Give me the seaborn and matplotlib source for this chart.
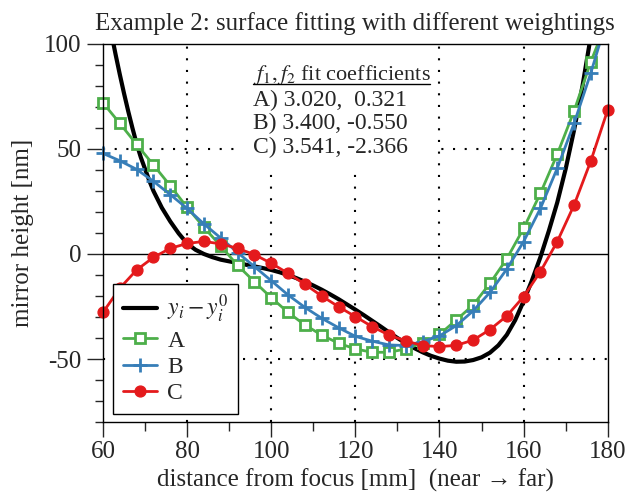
#Example 2: surface fitting with different weightings
import numpy as np
import matplotlib
matplotlib.use("Agg")
import matplotlib.pyplot as plt
from matplotlib.patches import Rectangle
from matplotlib.lines import Line2D
import seaborn as sns

# data
x_fit = [60, 64, 68, 72, 76, 80, 84, 88, 92, 96, 100, 104, 108, 112, 116, 120,
         124, 128, 132, 136, 140, 144, 148, 152, 156, 160, 164, 168, 172, 176, 180]
y_a = [72.0, 62.2, 52.2, 42.4, 32.5, 22.2, 12.7, 3.8, -5.4, -13.2, -20.8, -27.8,
       -33.8, -38.6, -42.5, -45.2, -46.8, -46.8, -45.2, -42.3, -38.3, -31.4, -24.3,
       -14.0, -2.3, 12.2, 28.9, 47.5, 68.1, 91.6, 112.0]
y_b = [47.9, 44.4, 40.3, 34.6, 28.3, 21.7, 14.3, 7.6, 0.7, -6.0, -12.7, -19.5,
       -25.4, -30.6, -35.1, -39.2, -41.5, -43.3, -43.6, -41.7, -39.0, -34.1, -27.1,
       -18.3, -7.2, 5.9, 21.7, 40.8, 62.2, 86.3, 113.0]
y_c = [-27.8, -16.3, -7.6, -1.6, 2.7, 5.0, 6.0, 4.8, 2.7, -0.3, -4.4, -9.2,
       -14.4, -20.0, -25.1, -29.8, -34.6, -38.6, -41.4, -43.6, -44.1, -43.5, -41.0,
       -36.0, -29.5, -20.3, -8.4, 5.9, 23.3, 44.4, 68.6]

x_true = [62, 63, 64, 65, 66, 67, 68, 69, 70, 71, 72, 74, 76, 78, 80, 82, 84, 86,
          88, 90, 92, 94, 96, 98, 100, 102, 104, 106, 108, 110, 112, 114, 116, 118,
          120, 122, 124, 126, 128, 130, 132, 134, 136, 138, 140, 142, 144, 146, 148,
          150, 152, 154, 156, 158, 160, 162, 164, 166, 168, 170, 172, 174, 176]
y_true = [105, 95, 85.5, 76.5, 68, 60, 52.5, 46, 40.5, 35, 30, 22, 15.5, 9.8, 5,
          2, 0, -1.5, -2.7, -3.5, -4.3, -5.1, -5.9, -6.7, -7.6, -8.7, -10, -11.5,
          -13.2, -15, -17, -19.2, -21.5, -24, -26.5, -29.1, -31.8, -34.5, -37.3,
          -40, -42.5, -44.8, -46.8, -48.5, -49.8, -50.8, -51.3, -51.2, -50.5, -49.2,
          -47, -43.5, -38.5, -31.5, -22.5, -12.5, -1.5, 11, 24.5, 40.5, 59, 80, 104]

coef_rows = ["A) 3.020,  0.321", "B) 3.400, -0.550", "C) 3.541, -2.366"]

sns.set_style("ticks")
plt.rcParams['font.family'] = ['Liberation Serif', 'DejaVu Serif']
plt.rcParams['mathtext.fontset'] = 'stix'
plt.rcParams['axes.unicode_minus'] = False
plt.rcParams['font.size'] = 18

fig = plt.figure(figsize=(6.26, 4.93), dpi=100)
ax = fig.add_axes([0.1645, 0.144, 0.8063, 0.7668])

green, blue, red = '#4daf4a', '#377eb8', '#e41a1c'

sns.lineplot(x=x_true, y=y_true, color='black', lw=3, label='$y_i - y_i^0$', ax=ax)
sns.lineplot(x=x_fit, y=y_a, color=green, lw=2, marker='s', markersize=7,
             markerfacecolor='white', markeredgecolor=green, markeredgewidth=2,
             label='A', ax=ax)
sns.lineplot(x=x_fit, y=y_b, color=blue, lw=2, marker='+', markersize=10,
             markeredgecolor=blue, markeredgewidth=2, label='B', ax=ax)
sns.lineplot(x=x_fit, y=y_c, color=red, lw=2, marker='o', markersize=7.8,
             markerfacecolor=red, markeredgecolor=red, markeredgewidth=1,
             label='C', ax=ax)

# let the edge markers stick out sideways, but clip at top and bottom
for ln in ax.lines:
    clip = Rectangle((-0.05, 0), 1.1, 1, transform=ax.transAxes)
    ln.set_clip_path(clip)

ax.set_xlim(60, 180)
ax.set_ylim(-80, 100)
ax.set_xticks(np.arange(60, 181, 20))
ax.set_xticks(np.arange(60, 181, 10), minor=True)
ax.set_yticks([-50, 0, 50, 100])
ax.set_yticks(np.arange(-80, 101, 10), minor=True)
ax.tick_params(which='both', direction='out', width=1, top=False, right=False)
ax.tick_params(axis='x', which='major', length=11, pad=3, labelsize=18)
ax.tick_params(axis='x', which='minor', length=6.5)
ax.tick_params(axis='y', which='major', length=11.5, pad=4, labelsize=18)
ax.tick_params(axis='y', which='minor', length=6)
for sp in ax.spines.values():
    sp.set_linewidth(1)
    sp.set_color('black')

# dotted guide lines and zero line
dots = (0, (1, 4.6))
for gx in [80, 100, 120, 140, 160]:
    ax.axvline(gx, color='black', lw=1.5, ls=dots, zorder=0.5)
for gy in [-50, 50]:
    ax.axhline(gy, color='black', lw=1.5, ls=dots, zorder=0.5)
ax.axhline(0, color='black', lw=1, zorder=0.6)

# white panel for the coefficient table
ax.add_patch(Rectangle((0.2714, 0.675), 0.39, 0.325, transform=ax.transAxes,
                       facecolor='white', edgecolor='none', zorder=0.8))
ax.text(0.297, 0.905, '$f_1, f_2$ fit coefficients', transform=ax.transAxes,
        va='baseline', ha='left', fontsize=16, zorder=3)
ax.add_line(Line2D([0.297, 0.648], [0.895, 0.895], transform=ax.transAxes,
                   color='black', lw=1, zorder=3))
for row, ty in zip(coef_rows, [0.836, 0.774, 0.712]):
    ax.text(0.297, ty, row, transform=ax.transAxes, va='baseline', ha='left',
            fontsize=17, zorder=3)

leg = ax.legend(loc='lower left', bbox_to_anchor=(0.02, 0.022), fontsize=17,
                frameon=True, fancybox=False, framealpha=1, edgecolor='black',
                handlelength=1.45, labelspacing=0.2, borderpad=0.4,
                handletextpad=0.45, borderaxespad=0)
leg.get_frame().set_linewidth(1)

ax.set_xlabel('distance from focus [mm]  (near \u2192 far)', fontsize=18, labelpad=4)
ax.set_ylabel('mirror height [nm]', fontsize=18, labelpad=7.5)
ax.set_title('Example 2: surface fitting with different weightings', fontsize=18, pad=10)

fig.savefig('out.png', dpi=100)
plt.close()
